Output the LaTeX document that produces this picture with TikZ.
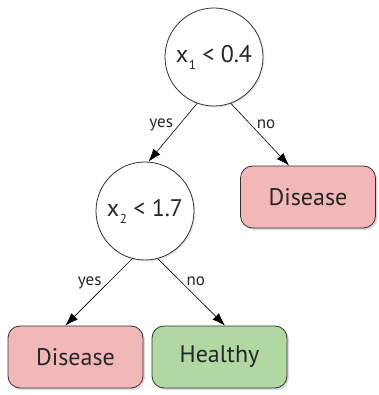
\documentclass[tikz,border=0pt]{standalone}
\usepackage{fontspec}
\setmainfont{PT Sans}
\usetikzlibrary{arrows.meta,shadows}

\tikzset{
    test/.style={draw=black!80, line width=0.8pt, circle, fill=white, minimum size=98pt, inner sep=0pt,
        font=\fontsize{24}{27}\selectfont, text=black!85,
        drop shadow={shadow xshift=1.5pt, shadow yshift=-1.5pt, opacity=0.2}},
    leaf/.style={draw=black!80, line width=0.8pt, rectangle, rounded corners=12pt, minimum width=135pt,
        minimum height=62pt, font=\fontsize{24}{27}\selectfont, text=black!85,
        drop shadow={shadow xshift=2pt, shadow yshift=-2pt, opacity=0.3}},
    sick/.style={leaf, fill=sickred},
    well/.style={leaf, fill=wellgreen},
    edgelab/.style={font=\fontsize{17}{19}\selectfont, text=black!85},
    branch/.style={-{Latex[length=13pt, width=9pt]}, line width=0.6pt}
}
\definecolor{sickred}{HTML}{F2B8B8}
\definecolor{wellgreen}{HTML}{B1D8A2}
\newcommand{\sub}[1]{\kern0.5pt\raisebox{-7pt}{\fontsize{13}{13}\selectfont #1}}

\begin{document}
\begin{tikzpicture}[x=1pt, y=-1pt]
    \useasboundingbox (0,0) rectangle (378,395);

    \node (t1) at (214, 57) [test] {x\sub{1} < 0.4};
    \node (t2) at (145,211) [test] {x\sub{2} < 1.7};
    \node (d1) at (308,197) [sick] {Disease};
    \node (d2) at (75.5,357) [sick] {Disease};
    \node (h1) at (219.5,357) [well] {Healthy};

    \draw[branch] (t1.250) to node[edgelab, pos=0.36, left=3pt] {yes} (t2.86);
    \draw[branch] (t1.290) to node[edgelab, pos=0.33, right=3pt] {no} (d1.121);
    \draw[branch] (t2.255) to node[edgelab, pos=0.36, left=3pt] {yes} (d2.108);
    \draw[branch] (t2.285) to node[edgelab, pos=0.33, right=3pt] {no} (h1.80);
\end{tikzpicture}
\end{document}
